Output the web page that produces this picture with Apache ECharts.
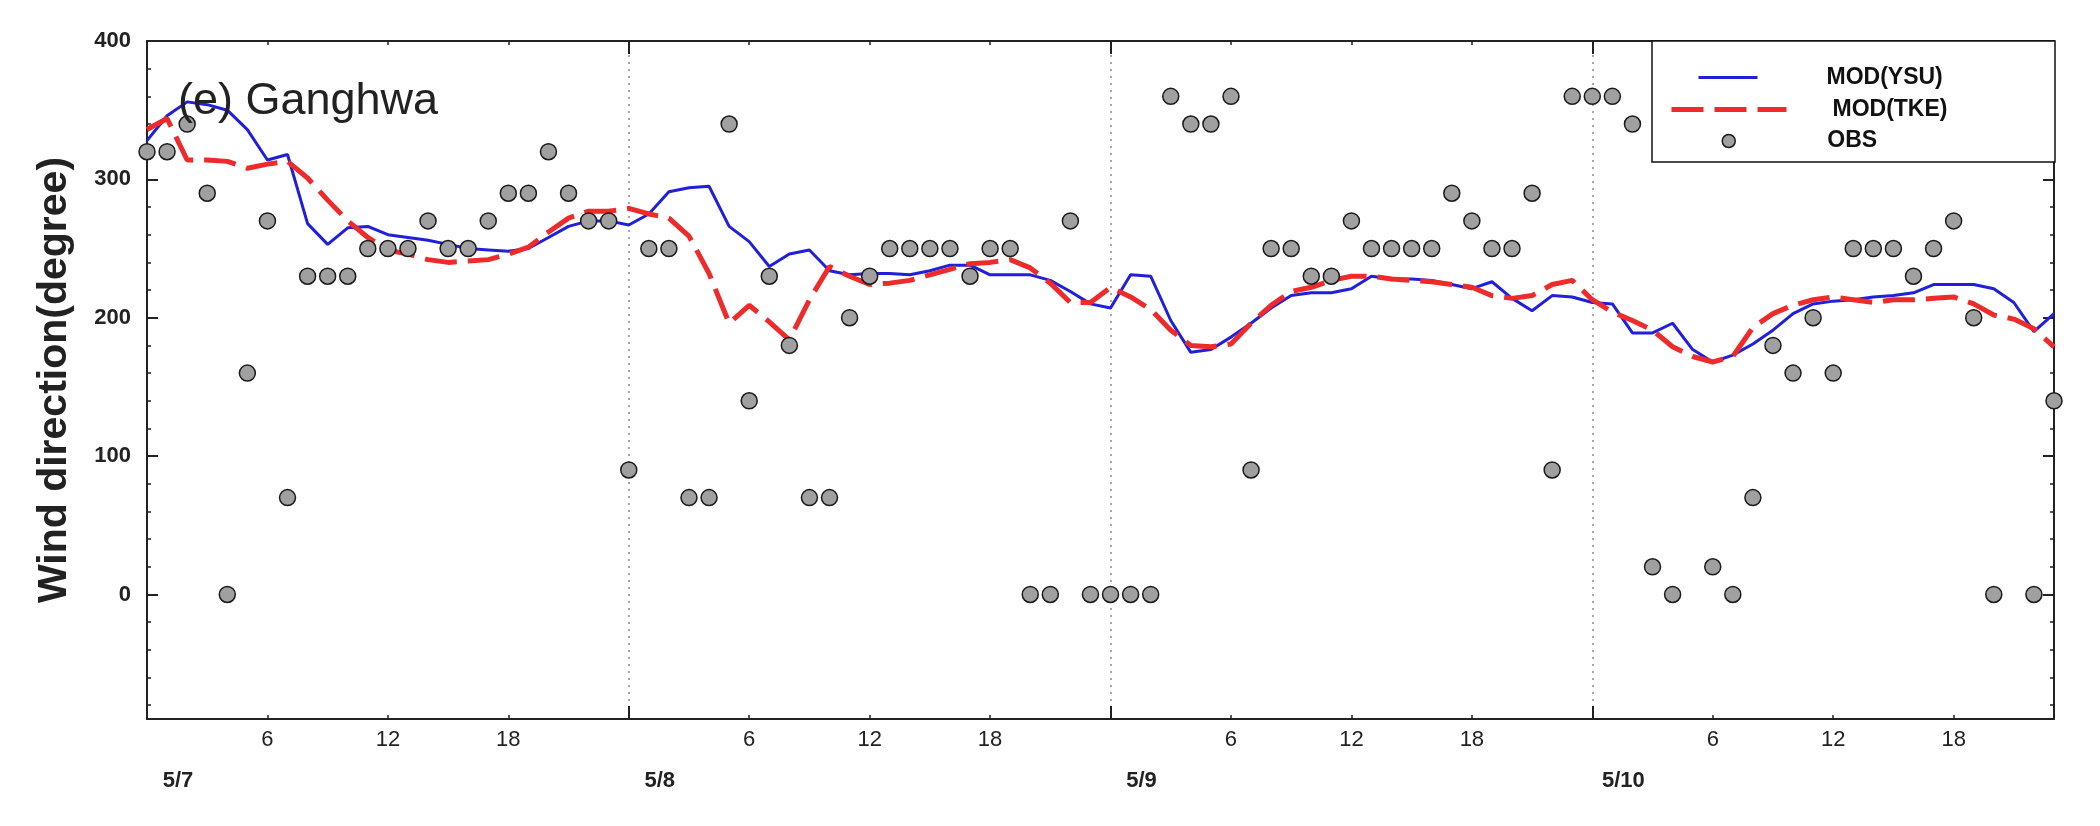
<!DOCTYPE html>
<html><head><meta charset="utf-8">
<script src="https://cdn.jsdelivr.net/npm/echarts@6/dist/echarts.min.js"></script>
<style>html,body{margin:0;padding:0;background:#fff}#c{width:2100px;height:826px}</style>
</head><body><div id="c"></div>
<script>
// ---- data (hourly, hour 0 = 5/7 00h) ----
const hours = Array.from({length: 96}, (_, i) => i);
const obs = [320,320,340,290,0,160,270,70,230,230,230,250,250,250,270,250,250,270,290,290,320,290,270,270,
             90,250,250,70,70,340,140,230,180,70,70,200,230,250,250,250,250,230,250,250,0,0,270,0,
             0,0,0,360,340,340,360,90,250,250,230,230,270,250,250,250,250,290,270,250,250,290,90,360,
             360,360,340,20,0,null,20,0,70,180,160,200,160,250,250,250,230,250,270,200,0,null,0,140];
const ysu = [328,346,356,354,350,336,314,318,268,253,265,266,260,258,256,253,250,249,248,250,258,266,270,270,
             267,275,291,294,295,266,255,237,246,249,234,231,232,232,231,234,238,238,231,231,231,227,219,210,
             207,231,230,198,175,177,186,196,207,216,218,218,221,230,228,228,227,224,221,226,214,205,216,215,
             211,210,189,189,196,177,168,173,181,191,203,210,212,213,215,216,218,224,224,224,221,211,190,203];
const tke = [336,344,314,314,313,308,311,313,301,285,270,258,249,246,242,240,241,242,246,251,262,272,277,277,
             279,275,272,259,232,196,209,197,184,213,237,230,224,225,227,231,235,239,240,242,236,225,211,211,
             222,215,206,191,180,179,181,196,209,219,222,227,230,230,228,227,226,224,222,216,214,216,224,227,
             213,204,198,191,179,172,168,172,193,203,209,213,215,213,211,213,213,214,215,210,202,199,192,179];
const seriesNames = ['MOD(YSU)', 'MOD(TKE)', 'OBS'];
const yTicks = [0, 100, 200, 300, 400];
const yMinorTicks = [-80,-60,-40,-20,20,40,60,80,120,140,160,180,220,240,260,280,320,340,360,380];
const hourTicks = [6,12,18,30,36,42,54,60,66,78,84,90];
const dayTicks = [24, 48, 72];
const dateLabelTicks = [0, 24, 48, 72];
const dateLabels = ['5/7', '5/8', '5/9', '5/10'];
const titleText = '(e) Ganghwa';
const yName = 'Wind direction(degree)';

// ---- chart ----
const FONT = '"Liberation Sans", Arial, sans-serif';
const INK = '#222';
const chart = echarts.init(document.getElementById('c'), null, {renderer: 'canvas'});
const xBase = {type: 'value', min: 0, max: 95, splitLine: {show: false}};
const yBase = {type: 'value', min: -90, max: 400, splitLine: {show: false}};
const lineSt = {color: INK, width: 2};
const hiddenSymbol = {color: 'rgba(0,0,0,0)', borderWidth: 0, opacity: 0};

const option = {
  animation: false,
  backgroundColor: '#fff',
  title: {text: titleText, left: 178, top: 79, padding: 0,
    textStyle: {fontFamily: FONT, fontSize: 45, fontWeight: 'normal', color: INK}},
  grid: {left: 147, right: 46, top: 41, bottom: 107, containLabel: false, outerBoundsMode: 'none'},
  xAxis: [
    Object.assign({}, xBase, {position: 'bottom',
      axisLine: {show: true, onZero: false, lineStyle: lineSt},
      axisTick: {inside: true, length: 4, customValues: hourTicks, lineStyle: {color: INK, width: 1.5}},
      axisLabel: {customValues: hourTicks, margin: 10, fontSize: 22, color: INK, fontFamily: FONT,
        formatter: v => String(v % 24)}}),
    Object.assign({}, xBase, {position: 'bottom',
      axisLine: {show: false, onZero: false},
      axisTick: {inside: true, length: 13, customValues: dayTicks, lineStyle: {color: INK, width: 2}},
      axisLabel: {customValues: dateLabelTicks, margin: 51, fontSize: 22, fontWeight: 'bold', color: INK,
        fontFamily: FONT, align: 'center', padding: [0, 0, 0, 62],
        formatter: v => dateLabels[dateLabelTicks.indexOf(v)] || ''},
      splitLine: {show: true, lineStyle: {color: '#8c8c8c', type: [2, 5], width: 1.5}}}),
    Object.assign({}, xBase, {position: 'top',
      axisLine: {show: true, onZero: false, lineStyle: lineSt},
      axisTick: {inside: true, length: 4, customValues: hourTicks, lineStyle: {color: INK, width: 1.5}},
      axisLabel: {show: false}}),
    Object.assign({}, xBase, {position: 'top',
      axisLine: {show: false, onZero: false},
      axisTick: {inside: true, length: 13, customValues: dayTicks, lineStyle: {color: INK, width: 2}},
      axisLabel: {show: false}})
  ],
  yAxis: [
    Object.assign({}, yBase, {position: 'left',
      name: yName, nameLocation: 'middle', nameRotate: 90, nameGap: 72,
      nameTextStyle: {fontFamily: FONT, fontSize: 41, fontWeight: 'bold', color: INK},
      axisLine: {show: true, onZero: false, lineStyle: lineSt},
      axisTick: {inside: true, length: 11, customValues: yTicks, lineStyle: {color: INK, width: 2}},
      axisLabel: {customValues: yTicks, margin: 16, fontSize: 22, fontWeight: 'bold', color: INK, fontFamily: FONT}}),
    Object.assign({}, yBase, {position: 'left',
      axisLine: {show: false, onZero: false},
      axisTick: {inside: true, length: 4, customValues: yMinorTicks, lineStyle: {color: INK, width: 1.5}},
      axisLabel: {show: false}}),
    Object.assign({}, yBase, {position: 'right',
      axisLine: {show: true, onZero: false, lineStyle: lineSt},
      axisTick: {inside: true, length: 11, customValues: yTicks, lineStyle: {color: INK, width: 2}},
      axisLabel: {show: false}}),
    Object.assign({}, yBase, {position: 'right',
      axisLine: {show: false, onZero: false},
      axisTick: {inside: true, length: 4, customValues: yMinorTicks, lineStyle: {color: INK, width: 1.5}},
      axisLabel: {show: false}})
  ],
  graphic: [{type: 'rect', z: 3, shape: {x: 1652, y: 41, width: 403, height: 121},
    style: {fill: '#fff', stroke: '#111', lineWidth: 1.5}}],
  legend: [
    {data: [seriesNames[0]], left: 1697, top: 66, padding: 0, itemWidth: 59, itemHeight: 14, z: 10,
      lineStyle: {width: 3}, itemStyle: hiddenSymbol, selectedMode: false,
      textStyle: {fontFamily: FONT, fontSize: 23, fontWeight: 'bold', color: '#111', padding: [0, 0, 0, 64]}},
    {data: [seriesNames[1]], left: 1669, top: 98, padding: 0, itemWidth: 115, itemHeight: 14, z: 10,
      lineStyle: {width: 5}, itemStyle: hiddenSymbol, selectedMode: false,
      textStyle: {fontFamily: FONT, fontSize: 23, fontWeight: 'bold', color: '#111', padding: [0, 0, 0, 41]}},
    {data: [seriesNames[2]], left: 1721.5, top: 129.5, padding: 0, itemWidth: 13, itemHeight: 13, z: 10,
      icon: 'circle', selectedMode: false, itemStyle: {borderColor: '#1a1a1a', borderWidth: 1.5},
      textStyle: {fontFamily: FONT, fontSize: 23, fontWeight: 'bold', color: '#111', padding: [0, 0, 0, 87]}}
  ],
  series: [
    {name: seriesNames[0], type: 'line', xAxisIndex: 0, yAxisIndex: 0, symbol: 'none', showSymbol: false, z: 2,
      data: hours.map((h, i) => [h, ysu[i]]),
      lineStyle: {color: '#1f1fdc', width: 3}, itemStyle: {color: '#1f1fdc'}},
    {name: seriesNames[1], type: 'line', xAxisIndex: 0, yAxisIndex: 0, symbol: 'none', showSymbol: false, z: 2,
      data: hours.map((h, i) => [h, tke[i]]),
      lineStyle: {color: '#ee2a2a', width: 5, type: [32, 11]}, itemStyle: {color: '#ee2a2a'}},
    {name: seriesNames[2], type: 'scatter', xAxisIndex: 0, yAxisIndex: 0, symbol: 'circle', symbolSize: 16, z: 2,
      data: hours.filter(i => obs[i] !== null).map(h => [h, obs[h]]),
      itemStyle: {color: '#a0a0a0', borderColor: '#1a1a1a', borderWidth: 1.5, opacity: 1}}
  ]
};
chart.setOption(option);
</script></body></html>
